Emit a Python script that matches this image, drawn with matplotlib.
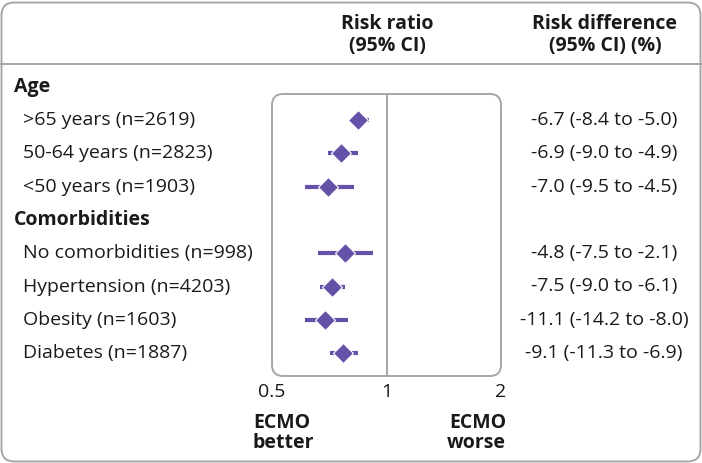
import matplotlib
matplotlib.use("Agg")
import matplotlib.pyplot as plt
import matplotlib.transforms as mtransforms
from matplotlib.patches import FancyBboxPatch
from matplotlib.lines import Line2D

# ---- data ----
groups = ["Age", "Comorbidities"]
row_labels = [">65 years (n=2619)", "50-64 years (n=2823)", "<50 years (n=1903)",
              "No comorbidities (n=998)", "Hypertension (n=4203)", "Obesity (n=1603)",
              "Diabetes (n=1887)"]
row_group = [0, 0, 0, 1, 1, 1, 1]
rr = [0.84, 0.76, 0.70, 0.78, 0.72, 0.69, 0.77]
rr_lo = [0.80, 0.70, 0.61, 0.66, 0.67, 0.61, 0.71]
rr_hi = [0.90, 0.84, 0.82, 0.92, 0.78, 0.79, 0.84]
rd_text = ["-6.7 (-8.4 to -5.0)", "-6.9 (-9.0 to -4.9)", "-7.0 (-9.5 to -4.5)",
           "-4.8 (-7.5 to -2.1)", "-7.5 (-9.0 to -6.1)", "-11.1 (-14.2 to -8.0)",
           "-9.1 (-11.3 to -6.9)"]
xticks = [0.5, 1, 2]
xtick_labels = ["0.5", "1", "2"]

PURPLE = "#6651a8"
GRAY = "#a6a6a6"
TXT = "#1a1a1a"
FONT = "Open Sans"
FS = 14

W, H = 702, 463
plt.rcParams["font.family"] = [FONT, "DejaVu Sans"]
fig = plt.figure(figsize=(W / 100, H / 100), dpi=100, facecolor="white")

def fx(px):
    return px / W

def fy(py):
    return 1 - py / H

# outer rounded frame
fig.patches.append(FancyBboxPatch((fx(1.5), fy(461.5)), fx(699), 459 / H,
                                  boxstyle="round,pad=0,rounding_size=%f" % fx(13),
                                  mutation_aspect=W / H, transform=fig.transFigure,
                                  facecolor="none", edgecolor=GRAY, lw=1.4, zorder=6))
# header separator
fig.lines.append(Line2D([0, 1], [fy(64), fy(64)], transform=fig.transFigure,
                        color=GRAY, lw=1.4, zorder=6))

# forest axes
ax_l, ax_r, ax_t, ax_b = 272, 501, 94, 376
ax = fig.add_axes([fx(ax_l), fy(ax_b), fx(ax_r - ax_l), (ax_b - ax_t) / H])
ax.set_xscale("log")
ax.set_xlim(0.5, 2)
ax.patch.set_alpha(0)
for s in ax.spines.values():
    s.set_visible(False)

# row positions: groups get a header row
ypos = []
group_y = []
k = -1
last_g = None
for g in row_group:
    if g != last_g:
        if last_g is not None:
            k += 1
            group_y.append(k)
        else:
            group_y.append(-1)
        last_g = g
    k += 1
    ypos.append(k)
# y pixel mapping: row 0 at 120 px, spacing 33.3 px
r0, sp = 120, 33.3
ax.set_ylim((ax_b - r0) / sp, (ax_t - r0) / sp)

ax.axvline(1, color=GRAY, lw=1.4, zorder=1)
ax.hlines(ypos, rr_lo, rr_hi, color=PURPLE, lw=3, zorder=2)
ax.plot(rr, ypos, ls="none", marker="D", ms=10, mfc=PURPLE, mec="white", mew=0.8, zorder=3)

ax.set_xticks(xticks)
ax.set_xticklabels(xtick_labels, fontsize=FS, color=TXT)
ax.minorticks_off()
ax.tick_params(axis="x", length=0, pad=5)
ax.set_yticks([])

# rounded box around plot
fig.patches.append(FancyBboxPatch((fx(ax_l), fy(ax_b)), fx(ax_r - ax_l), (ax_b - ax_t) / H,
                                  boxstyle="round,pad=0,rounding_size=%f" % fx(11),
                                  mutation_aspect=W / H, transform=fig.transFigure,
                                  facecolor="none", edgecolor=GRAY, lw=1.4, zorder=6))

# text in rows
tr = mtransforms.blended_transform_factory(fig.transFigure, ax.transData)
for gi, gname in enumerate(groups):
    fig.text(fx(14), group_y[gi], gname, transform=tr, fontsize=FS, fontweight="bold",
             color=TXT, va="center", ha="left")
for y, lab, rd in zip(ypos, row_labels, rd_text):
    fig.text(fx(23), y, lab, transform=tr, fontsize=FS, color=TXT, va="center", ha="left")
    fig.text(fx(604), y, rd, transform=tr, fontsize=FS, color=TXT, va="center", ha="center")

# headers
fig.text(fx(387), fy(35), "Risk ratio\n(95% CI)", fontsize=FS, fontweight="bold",
         color=TXT, ha="center", va="center", linespacing=1.15)
fig.text(fx(605), fy(35), "Risk difference\n(95% CI) (%)", fontsize=FS, fontweight="bold",
         color=TXT, ha="center", va="center", linespacing=1.15)

# direction labels
fig.text(fx(253), fy(433), "ECMO\nbetter", fontsize=FS, fontweight="bold", color=TXT,
         ha="left", va="center", linespacing=1.0)
fig.text(fx(506), fy(433), "ECMO\nworse", fontsize=FS, fontweight="bold", color=TXT,
         ha="right", va="center", linespacing=1.0, multialignment="right")

fig.savefig("out.png", dpi=100, facecolor="white")
